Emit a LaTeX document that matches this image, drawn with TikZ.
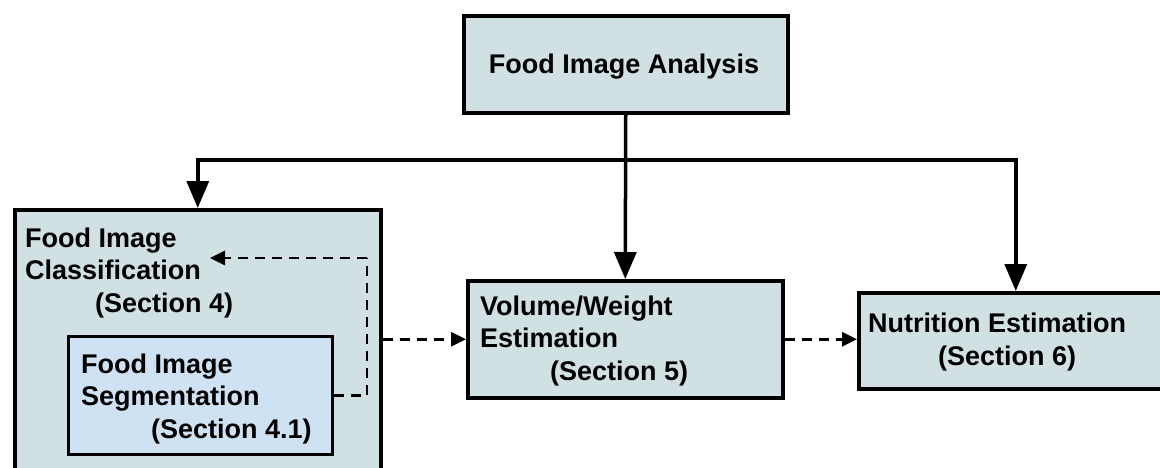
\documentclass[tikz,border=0pt]{standalone}
\usepackage{fontspec}
\setmainfont{Liberation Sans}
\usetikzlibrary{arrows.meta}
\definecolor{boxfill}{HTML}{D0E0E3}
\definecolor{innerfill}{HTML}{CFE2F3}
\tikzset{
  box/.style={draw=black, line width=3.5pt, fill=boxfill, rectangle, inner sep=0pt, anchor=north west},
  innerbox/.style={draw=black, line width=2.5pt, fill=innerfill, rectangle, inner sep=0pt, anchor=north west},
  txt/.style={font=\fontsize{27}{32.5}\selectfont\bfseries, align=left, inner sep=0pt, anchor=base west},
  solidarrow/.style={line width=3.5pt, -{Triangle[length=27pt,width=22pt]}},
  dasharrow/.style={line width=2.8pt, dash pattern=on 10pt off 7pt, -{Triangle[length=15pt,width=14pt]}},
  dashline/.style={line width=2.8pt, dash pattern=on 10pt off 7pt}
}
\begin{document}
\begin{tikzpicture}[x=1pt,y=-1pt]
\useasboundingbox (0,0) rectangle (1160,467);
\clip (0,0) rectangle (1160,467);
% boxes
\node[box, minimum width=324pt, minimum height=97pt] (top) at (462,14) {};
\node[box, minimum width=366pt, minimum height=290pt] (cls) at (13,208) {};
\node[innerbox, minimum width=264pt, minimum height=118pt] (seg) at (67,335) {};
\node[box, minimum width=315pt, minimum height=117pt] (vol) at (466,279) {};
\node[box, minimum width=314pt, minimum height=96pt] (nut) at (857,291) {};
% texts (anchored at the baseline of the last line)
\node[txt, anchor=base] (toptext) at (624,73) {Food Image Analysis};
\node[txt] (clstext) at (25,312) {Food Image\\Classification\\\hspace*{70pt}(Section 4)};
\node[txt] (segtext) at (81,438) {Food Image\\Segmentation\\\hspace*{70pt}(Section 4.1)};
\node[txt] (voltext) at (480,380) {Volume/Weight\\Estimation\\\hspace*{70pt}(Section 5)};
\node[txt] (nuttext) at (868,365) {Nutrition Estimation\\\hspace*{70pt}(Section 6)};
% solid connectors
\coordinate (split) at (623.5,160);
\draw[solidarrow] (top.south) -- (vol.north);
\draw[solidarrow] (split) -| (cls.north);
\draw[solidarrow] (split) -| (nut.north);
% dashed connectors
\draw[dasharrow] (vol.west -| cls.east) -- (vol.west);
\draw[dasharrow] (vol.east) -- (vol.east -| nut.west);
\coordinate (bend) at (367,258);
\coordinate (clsin) at (210,258);
\draw[dashline] (seg.east) -| (bend);
\draw[dasharrow] (bend) -- (clsin);
\end{tikzpicture}
\end{document}
